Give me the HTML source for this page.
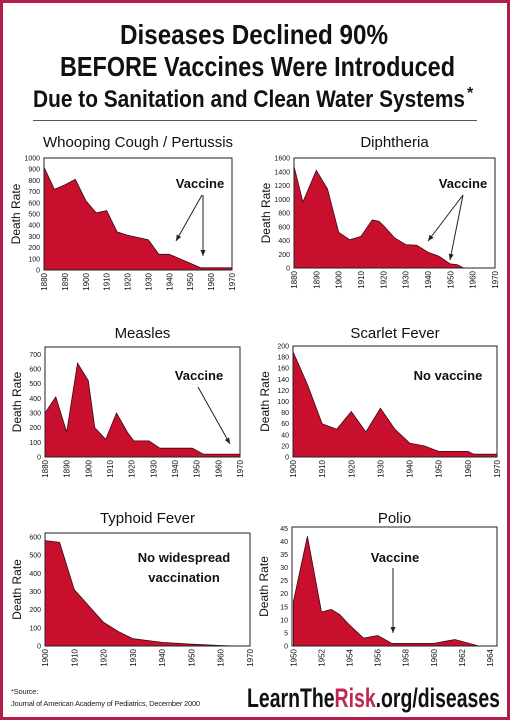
<!DOCTYPE html>
<html><head><meta charset="utf-8">
<style>
html,body{margin:0;padding:0;background:#fff}
#wrap{position:relative;width:510px;height:720px;overflow:hidden;background:#fff}
#frame{position:absolute;left:0;top:0;width:504px;height:714px;border:3px solid #b21e48}
</style></head>
<body>
<div id="wrap">
<div id="frame"></div>
<svg id="charts" width="510" height="720" style="position:absolute;left:0;top:0">
<text x="120" y="44" font-family="Liberation Sans, sans-serif" font-weight="bold" font-size="28" fill="#111" textLength="268" lengthAdjust="spacingAndGlyphs">Diseases Declined 90%</text>
<text x="60" y="76" font-family="Liberation Sans, sans-serif" font-weight="bold" font-size="28" fill="#111" textLength="395" lengthAdjust="spacingAndGlyphs">BEFORE Vaccines Were Introduced</text>
<text x="33" y="107" font-family="Liberation Sans, sans-serif" font-weight="bold" font-size="24" fill="#111" textLength="432" lengthAdjust="spacingAndGlyphs">Due to Sanitation and Clean Water Systems</text>
<text x="467" y="98" font-family="Liberation Sans, sans-serif" font-weight="bold" font-size="16" fill="#111">*</text>
<text x="247" y="707" font-family="Liberation Sans, sans-serif" font-weight="bold" font-size="27" fill="#111" textLength="253" lengthAdjust="spacingAndGlyphs">LearnThe<tspan fill="#c0284f">Risk</tspan>.org/diseases</text>
</svg>
<div style="position:absolute;left:33px;top:120px;width:444px;height:1px;background:#555"></div>
<div style="position:absolute;left:11px;top:686px;font-family:'Liberation Sans',sans-serif;font-size:7.5px;color:#222;line-height:12px;letter-spacing:-0.2px">*Source:<br>Journal of American Academy of Pediatrics, December 2000</div>
</div>
<script>
// Whooping cough
const wcYears=[1880,1885,1890,1895,1900,1905,1910,1915,1920,1925,1930,1935,1940,1945,1950,1955,1960,1965,1970];
const wcValues=[920,720,760,810,620,510,530,340,310,290,270,140,140,100,60,20,20,20,20];
const wcYTicks=[0,100,200,300,400,500,600,700,800,900,1000];
const wcXTicks=[1880,1890,1900,1910,1920,1930,1940,1950,1960,1970];
// Diphtheria
const dpYears=[1880,1884,1890,1895,1900,1905,1910,1915,1918,1920,1925,1930,1935,1940,1945,1950,1953,1956,1970];
const dpValues=[1480,960,1420,1150,520,410,460,700,680,620,440,340,330,230,170,60,50,0,0];
const dpYTicks=[0,200,400,600,800,1000,1200,1400,1600];
const dpXTicks=[1880,1890,1900,1910,1920,1930,1940,1950,1960,1970];
// Measles
const msYears=[1880,1885,1890,1895,1900,1903,1908,1913,1918,1921,1928,1933,1943,1948,1953,1970];
const msValues=[300,410,170,640,520,200,120,300,170,110,110,60,60,60,20,20];
const msYTicks=[0,100,200,300,400,500,600,700];
const msXTicks=[1880,1890,1900,1910,1920,1930,1940,1950,1960,1970];
// Scarlet fever
const sfYears=[1900,1905,1910,1915,1920,1925,1930,1935,1940,1945,1950,1960,1962,1970];
const sfValues=[190,130,60,50,82,45,88,50,25,20,10,10,5,5];
const sfYTicks=[0,20,40,60,80,100,120,140,160,180,200];
const sfXTicks=[1900,1910,1920,1930,1940,1950,1960,1970];
// Typhoid
const tyYears=[1900,1905,1910,1915,1920,1925,1930,1935,1940,1950,1960,1965,1970];
const tyValues=[580,570,310,220,130,80,40,30,20,10,3,0,0];
const tyYTicks=[0,100,200,300,400,500,600];
const tyXTicks=[1900,1910,1920,1930,1940,1950,1960,1970];
// Polio
const poYears=[1950,1951,1952,1952.7,1953.3,1954,1955,1956,1957,1960,1961,1961.5,1963.2,1964.5];
const poValues=[17,42,13,14,12,8,3,4,1,1,2,2.5,0,0];
const poYTicks=[0,5,10,15,20,25,30,35,40,45];
const poXTicks=[1950,1952,1954,1956,1958,1960,1962,1964];

const NS='http://www.w3.org/2000/svg';
const svg=document.getElementById('charts');
function mk(tag,attrs,parent){const e=document.createElementNS(NS,tag);for(const k in attrs)e.setAttribute(k,attrs[k]);(parent||svg).appendChild(e);return e;}
function txt(x,y,s,size,attrs,parent){const e=mk('text',Object.assign({x:x,y:y,'font-size':size,'font-family':'Liberation Sans, sans-serif',fill:'#111'},attrs||{}),parent);e.textContent=s;return e;}

function chart(c){
  const g=mk('g',{});
  
  
  const sx=v=>c.l+(v-c.x0)/(c.x1-c.x0)*(c.r-c.l);
  const sy=v=>c.b-(v-c.y0)/(c.y1-c.y0)*(c.b-c.t);
  const ti=txt((c.l+c.r)/2,c.titleY,c.title,15,{'text-anchor':'middle'},g);
  
  
  let d='M'+sx(c.xs[0])+','+sy(0);
  for(let i=0;i<c.xs.length;i++)d+=' L'+sx(c.xs[i]).toFixed(1)+','+sy(c.vs[i]).toFixed(1);
  d+=' L'+sx(c.xs[c.xs.length-1])+','+sy(0)+' Z';
  const a=mk('path',{d:d,fill:'#c8102e',stroke:'#3a0a10','stroke-width':0.8},g);
  
  
  const box=mk('rect',{x:c.l,y:c.t,width:c.r-c.l,height:c.b-c.t,fill:'none',stroke:'#222','stroke-width':1},g);
  
  
  c.yt.forEach(v=>{const e=txt(c.l-4,sy(v)+2.5,String(v),7,{'text-anchor':'end'},g);
    
    });
  c.xt.forEach(v=>{const x=sx(v)+3,y=c.b+3;const e=txt(x,y,String(v),8,{'text-anchor':'end',transform:'rotate(-90 '+x+' '+y+')'},g);
    
    });
  const yl=txt(c.l-24,(c.t+c.b)/2,'Death Rate',12,{'text-anchor':'middle',transform:'rotate(-90 '+(c.l-24)+' '+((c.t+c.b)/2)+')'},g);
  
  
  (c.notes||[]).forEach(n=>{const e=txt(n[0],n[1],n[2],13,{'text-anchor':'middle','font-weight':'bold'},g);
    
    });
  (c.arrows||[]).forEach(p=>{const ln=mk('line',{x1:p[0],y1:p[1],x2:p[2],y2:p[3],stroke:'#222','stroke-width':1},g);
    
    
    const ang=Math.atan2(p[3]-p[1],p[2]-p[0]),L=6,W=2.5;
    const bx=p[2]-L*Math.cos(ang),by=p[3]-L*Math.sin(ang);
    const hx=-Math.sin(ang)*W,hy=Math.cos(ang)*W;
    const h=mk('polygon',{points:p[2]+','+p[3]+' '+(bx+hx)+','+(by+hy)+' '+(bx-hx)+','+(by-hy),fill:'#222'},g);
    
    });
}
chart({name:'whooping-cough',title:'Whooping Cough / Pertussis',titleY:147,l:44,r:232,t:158,b:270,x0:1880,x1:1970,y0:0,y1:1000,xs:wcYears,vs:wcValues,yt:wcYTicks,xt:wcXTicks,
  notes:[[200,188,'Vaccine']],arrows:[[202,195,176,241],[203,195,203,256]]});
chart({name:'diphtheria',title:'Diphtheria',titleY:147,l:294,r:495,t:158,b:268,x0:1880,x1:1970,y0:0,y1:1600,xs:dpYears,vs:dpValues,yt:dpYTicks,xt:dpXTicks,
  notes:[[463,188,'Vaccine']],arrows:[[463,195,428,241],[463,195,450,260]]});
chart({name:'measles',title:'Measles',titleY:338,l:45,r:240,t:347,b:457,x0:1880,x1:1970,y0:0,y1:750,xs:msYears,vs:msValues,yt:msYTicks,xt:msXTicks,
  notes:[[199,380,'Vaccine']],arrows:[[198,387,230,444]]});
chart({name:'scarlet-fever',title:'Scarlet Fever',titleY:338,l:293,r:497,t:346,b:457,x0:1900,x1:1970,y0:0,y1:200,xs:sfYears,vs:sfValues,yt:sfYTicks,xt:sfXTicks,
  notes:[[448,380,'No vaccine']]});
chart({name:'typhoid-fever',title:'Typhoid Fever',titleY:523,l:45,r:250,t:533,b:646,x0:1900,x1:1970,y0:0,y1:622,xs:tyYears,vs:tyValues,yt:tyYTicks,xt:tyXTicks,
  notes:[[184,562,'No widespread'],[184,582,'vaccination']]});
chart({name:'polio',title:'Polio',titleY:523,l:292,r:497,t:527,b:646,x0:1949.9,x1:1964.5,y0:0,y1:45.5,xs:poYears,vs:poValues,yt:poYTicks,xt:poXTicks,
  notes:[[395,562,'Vaccine']],arrows:[[393,568,393,633]]});
</script>
</body></html>
